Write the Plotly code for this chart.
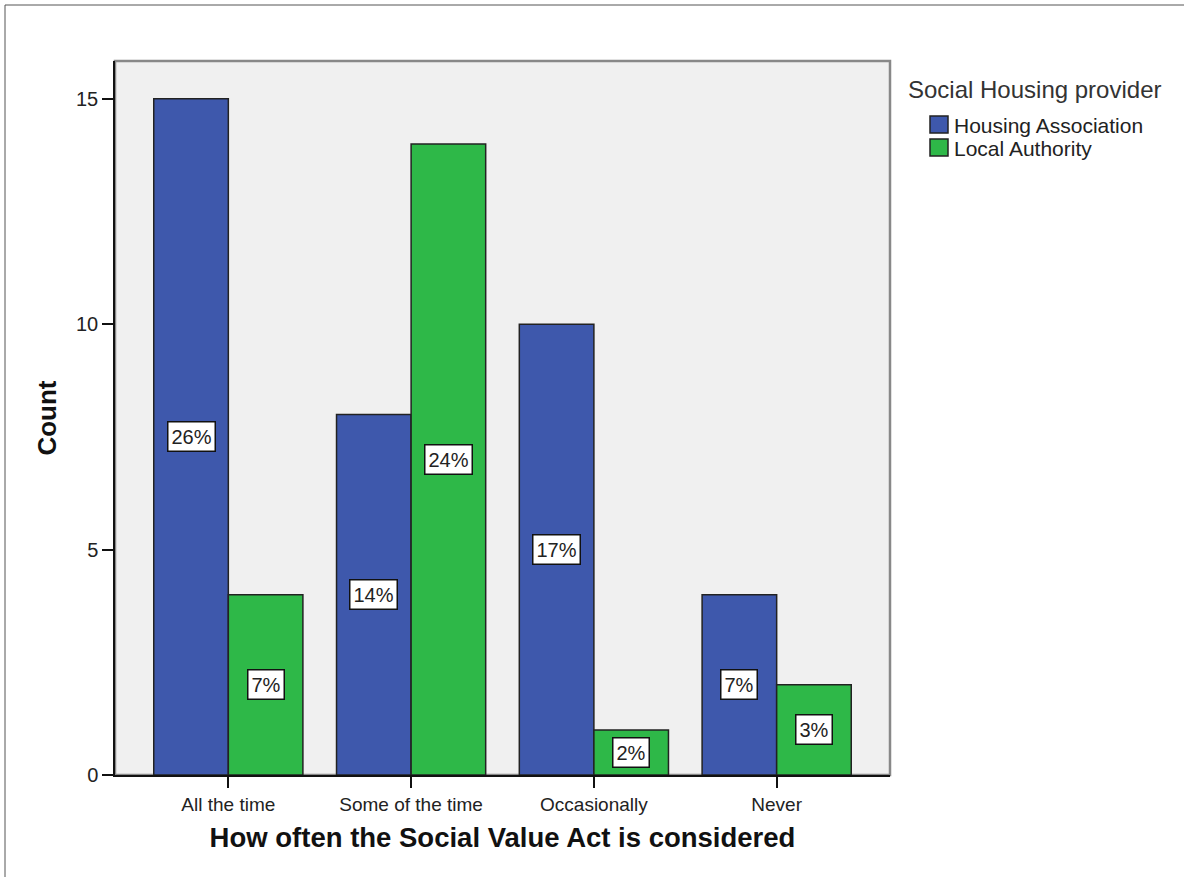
import plotly.graph_objects as go

categories = ["All the time", "Some of the time", "Occasionally", "Never"]
series_names = ["Housing Association", "Local Authority"]
ha_counts = [15, 8, 10, 4]
la_counts = [4, 14, 1, 2]
ha_pct = ["26%", "14%", "17%", "7%"]
la_pct = ["7%", "24%", "2%", "3%"]
colors = ["#3E58AC", "#2EB848"]
legend_title = "Social Housing provider"

W, H = 1184, 877
ml, mr, mt, mb = 115, 294, 61, 102
pw = W - ml - mr
ph = H - mt - mb

def px(x):
    return (x - ml) / pw

def py(y):
    return (H - mb - y) / ph

FONT = "Arial, Liberation Sans, sans-serif"

fig = go.Figure()
for name, vals, col in zip(series_names, [ha_counts, la_counts], colors):
    fig.add_trace(go.Bar(
        x=list(range(len(categories))), y=vals, name=name,
        marker=dict(color=col, line=dict(color="#222222", width=1.5)),
        hoverinfo="skip", showlegend=False,
    ))

bar_w = 0.816 / 2
annotations = []
for vals, pcts, off in [(ha_counts, ha_pct, -bar_w / 2), (la_counts, la_pct, bar_w / 2)]:
    for i, (v, p) in enumerate(zip(vals, pcts)):
        annotations.append(dict(
            x=i + off, y=v / 2, xref="x", yref="y", text=p, showarrow=False,
            font=dict(family=FONT, size=20, color="#222"),
            bgcolor="white", bordercolor="#111", borderwidth=1.5, borderpad=3,
        ))

# manual legend
annotations.append(dict(
    x=px(906), y=py(90), xref="paper", yref="paper", xanchor="left", yanchor="middle",
    text=legend_title, showarrow=False, font=dict(family=FONT, size=24, color="#333"),
))
shapes = []
for k, (name, col) in enumerate(zip(series_names, colors)):
    top = 116 + k * 23
    shapes.append(dict(type="rect", xref="paper", yref="paper",
                       x0=px(930), x1=px(948), y0=py(top + 17), y1=py(top),
                       fillcolor=col, line=dict(color="#222", width=1.5)))
    annotations.append(dict(
        x=px(952), y=py(top + 9), xref="paper", yref="paper", xanchor="left", yanchor="middle",
        text=name, showarrow=False, font=dict(family=FONT, size=21, color="#222"),
    ))

shapes += [
    dict(type="rect", xref="paper", yref="paper",
         x0=px(5), x1=px(W + 20), y0=py(H + 20), y1=py(5),
         line=dict(color="#555", width=1), layer="below"),
    dict(type="rect", xref="paper", yref="paper", x0=0, x1=1, y0=0, y1=1,
         line=dict(color="#888", width=2.5), layer="below"),
]

fig.update_layout(
    width=W, height=H,
    margin=dict(l=ml, r=mr, t=mt, b=mb),
    paper_bgcolor="white", plot_bgcolor="#F0F0F0",
    barmode="group", bargap=0.184, bargroupgap=0,
    font=dict(family=FONT, color="#222"),
    showlegend=False,
    annotations=annotations,
    shapes=shapes,
    xaxis=dict(
        tickmode="array", tickvals=list(range(len(categories))), ticktext=categories,
        range=[-0.62, 3.62], showgrid=False, zeroline=False,
        showline=True, linecolor="#111", linewidth=1.5,
        ticks="outside", ticklen=11, tickcolor="#111", tickwidth=1.5,
        tickfont=dict(size=19, color="#222"),
        title=dict(text="<b>How often the Social Value Act is considered</b>",
                   font=dict(size=27.5, color="#111"), standoff=14),
    ),
    yaxis=dict(
        range=[0, 15.84], tickvals=[0, 5, 10, 15], showgrid=False, zeroline=False,
        showline=True, linecolor="#111", linewidth=1.5,
        ticks="outside", ticklen=11, tickcolor="#111", tickwidth=1.5,
        tickfont=dict(size=20, color="#222"),
        title=dict(text="<b>Count</b>", font=dict(size=26, color="#111"), standoff=12),
    ),
)

fig.write_html("out.html", config={"displayModeBar": False},
               post_script="document.body.style.margin='0';")
